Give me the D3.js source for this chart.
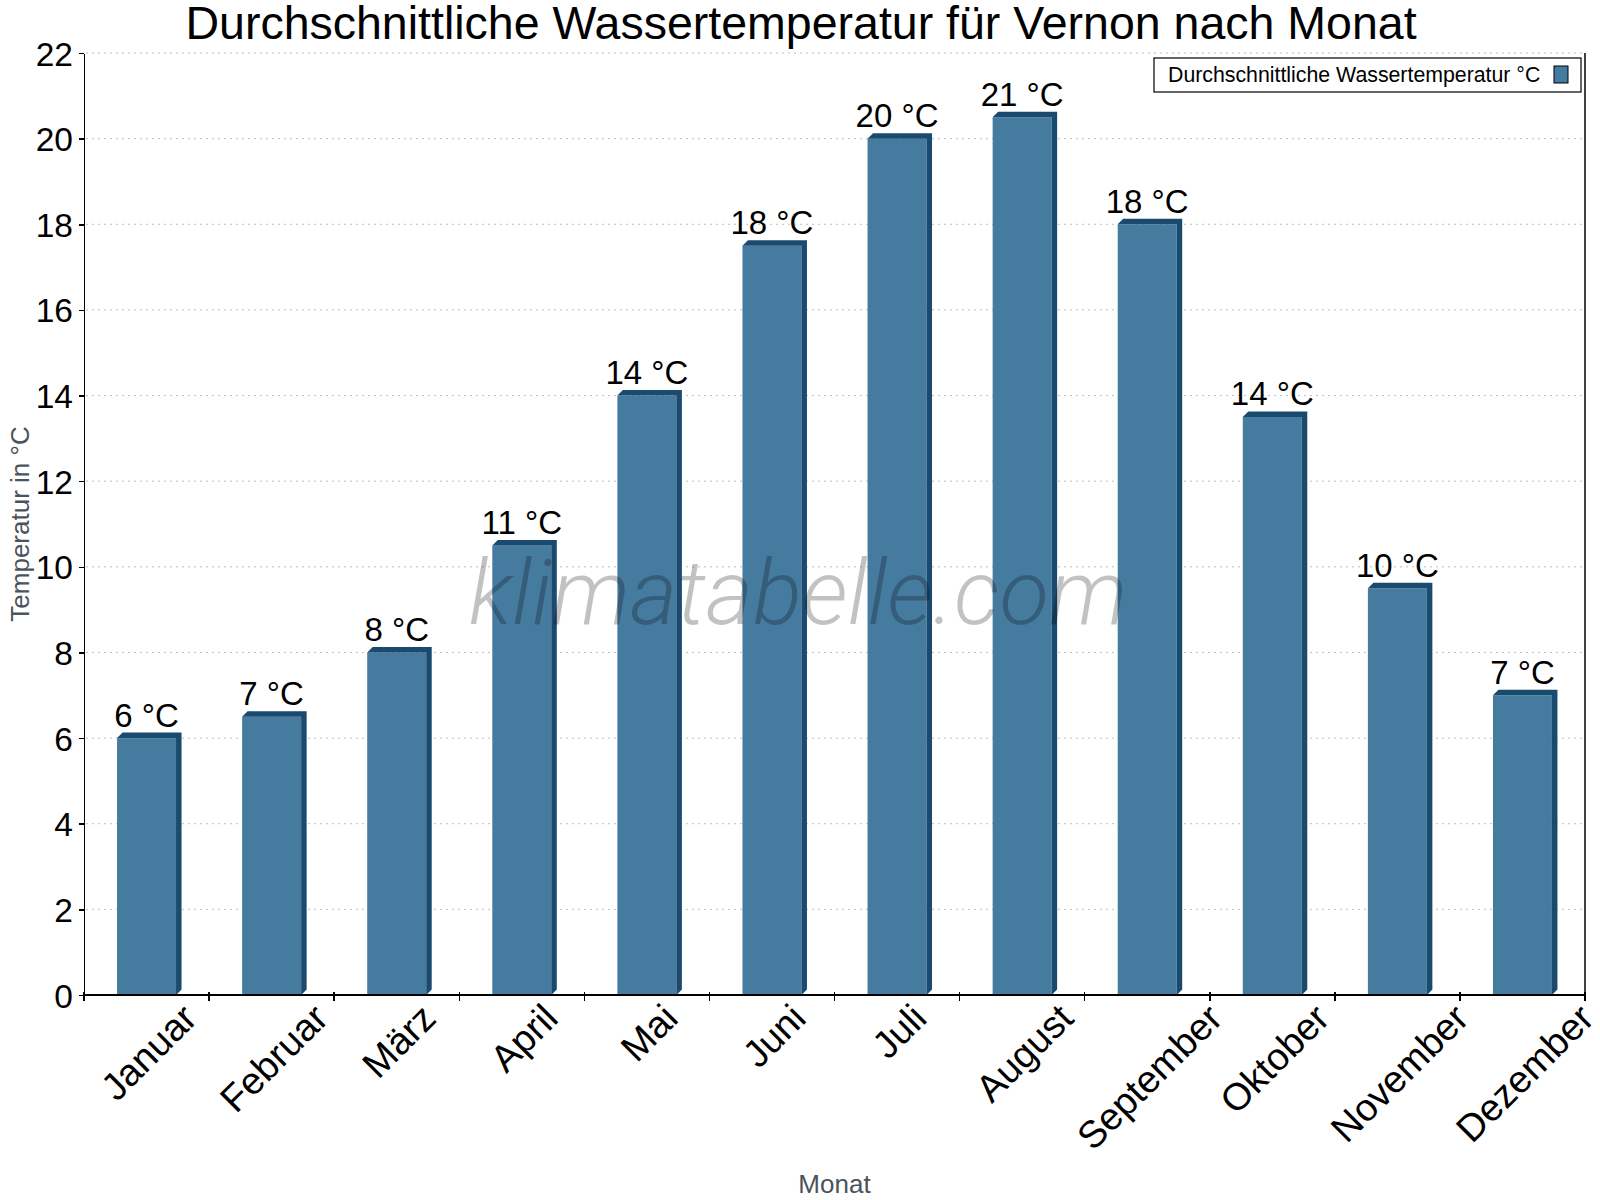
<!DOCTYPE html>
<meta charset="utf-8">
<title>Durchschnittliche Wassertemperatur für Vernon nach Monat</title>
<style>
body { margin: 0; background: #fff; }
text { font-family: "Liberation Sans", Arial, sans-serif; }
.grid line { stroke: #bdbdbd; stroke-dasharray: 2 4; }
.axis path, .axis line { stroke: #000; stroke-width: 1.5; fill: none; shape-rendering: crispEdges; }
</style>
<body>
<script src="https://cdnjs.cloudflare.com/ajax/libs/d3/7.8.5/d3.min.js"></script>
<script>
// data
var months = ["Januar", "Februar", "März", "April", "Mai", "Juni", "Juli",
  "August", "September", "Oktober", "November", "Dezember"];
var waterTemp = [6, 6.5, 8, 10.5, 14, 17.5, 20, 20.5, 18, 13.5, 9.5, 7];
var valueLabels = ["6 °C", "7 °C", "8 °C", "11 °C", "14 °C", "18 °C", "20 °C",
  "21 °C", "18 °C", "14 °C", "10 °C", "7 °C"];
var yTicks = [0, 2, 4, 6, 8, 10, 12, 14, 16, 18, 20, 22];

var W = 1600, H = 1200;
var plot = {left: 84, right: 1585, top: 53, bottom: 995};

var front = "#467ba0", dark = "#1a4a6e";
var depth = 5.5;

var svg = d3.select("body").append("svg")
  .attr("width", W)
  .attr("height", H);

svg.append("rect").attr("width", W).attr("height", H).attr("fill", "#fff");

var x = d3.scaleBand()
  .domain(months)
  .range([plot.left, plot.right]);

var y = d3.scaleLinear()
  .domain([0, 22])
  .range([plot.bottom, plot.top]);

// horizontal grid
svg.append("g")
  .attr("class", "grid")
  .selectAll("line")
  .data(yTicks.slice(1))
  .enter().append("line")
  .attr("x1", plot.left + 2)
  .attr("x2", plot.right - 3)
  .attr("y1", function(d) { return y(d); })
  .attr("y2", function(d) { return y(d); });

// bars with a little 3d shadow on top and right
var barW = 59;
var bars = svg.append("g").selectAll("g")
  .data(waterTemp)
  .enter().append("g");

bars.append("rect")
  .attr("x", function(d, i) { return x(months[i]) + x.bandwidth() / 2 - barW / 2; })
  .attr("y", function(d) { return y(d); })
  .attr("width", barW)
  .attr("height", function(d) { return y(0) - y(d); })
  .attr("fill", front);

bars.append("path")
  .attr("fill", dark)
  .attr("d", function(d, i) {
    var x0 = x(months[i]) + x.bandwidth() / 2 - barW / 2, x1 = x0 + barW;
    var yt = y(d), yb = y(0);
    return "M" + x0 + "," + yt +
      "L" + (x0 + depth) + "," + (yt - depth) +
      "L" + (x1 + depth) + "," + (yt - depth) +
      "L" + (x1 + depth) + "," + (yb - depth) +
      "L" + x1 + "," + yb +
      "L" + x1 + "," + yt + "Z";
  });

bars.append("text")
  .attr("x", function(d, i) { return x(months[i]) + x.bandwidth() / 2; })
  .attr("y", function(d) { return y(d) - 11.5; })
  .attr("text-anchor", "middle")
  .attr("font-size", 33)
  .attr("fill", "#000")
  .text(function(d, i) { return valueLabels[i]; });

// y axis
var yAxis = svg.append("g")
  .attr("class", "axis")
  .attr("transform", "translate(" + plot.left + ",0)")
  .call(d3.axisLeft(y).tickValues(yTicks).tickSize(5).tickPadding(6).tickSizeOuter(0));
yAxis.selectAll("text")
  .attr("font-size", 33.5)
  .attr("fill", "#000")
  .attr("dy", "0.36em")
  .style("font-family", "'Liberation Sans', Arial, sans-serif");

// right border of the plot
svg.append("line")
  .attr("class", "axis")
  .attr("x1", plot.right).attr("x2", plot.right)
  .attr("y1", plot.top).attr("y2", plot.bottom)
  .attr("stroke", "#000").attr("stroke-width", 1.5);

// x axis: line plus ticks at the band edges
var xg = svg.append("g").attr("class", "axis");
xg.append("line")
  .attr("x1", plot.left).attr("x2", plot.right)
  .attr("y1", plot.bottom).attr("y2", plot.bottom);
xg.selectAll(".tk")
  .data(d3.range(months.length + 1))
  .enter().append("line")
  .attr("class", "tk")
  .attr("x1", function(i) { return plot.left + i * x.step(); })
  .attr("x2", function(i) { return plot.left + i * x.step(); })
  .attr("y1", plot.bottom - 3)
  .attr("y2", plot.bottom + 6);

// rotated month labels: bounding box centred under the bar, top aligned
xg.selectAll(".lbl")
  .data(months)
  .enter().append("text")
  .attr("class", "lbl")
  .attr("font-size", 38)
  .attr("fill", "#000")
  .attr("text-anchor", "middle")
  .attr("dy", "0.35em")
  .text(function(d) { return d; })
  .each(function(d) {
    var L = this.getComputedTextLength();
    var cx = x(d) + x.bandwidth() / 2 + 2;
    var cy = 1011 + L * 0.354;
    d3.select(this).attr("transform", "translate(" + cx + "," + cy + ") rotate(-45)");
  });

// title
svg.append("text")
  .attr("x", 801)
  .attr("y", 39)
  .attr("text-anchor", "middle")
  .attr("font-size", 46.5)
  .attr("fill", "#000")
  .text("Durchschnittliche Wassertemperatur für Vernon nach Monat");

// axis titles
svg.append("text")
  .attr("transform", "translate(29," + (plot.top + plot.bottom) / 2 + ") rotate(-90)")
  .attr("text-anchor", "middle")
  .attr("font-size", 26)
  .attr("fill", "#4b535c")
  .text("Temperatur in °C");

svg.append("text")
  .attr("x", (plot.left + plot.right) / 2)
  .attr("y", 1193)
  .attr("text-anchor", "middle")
  .attr("font-size", 26)
  .attr("fill", "#4b535c")
  .text("Monat");

// legend
var legend = svg.append("g");
legend.append("rect")
  .attr("x", 1154).attr("y", 58)
  .attr("width", 427).attr("height", 34)
  .attr("fill", "#fff").attr("stroke", "#000").attr("stroke-width", 1.2);
legend.append("text")
  .attr("x", 1168).attr("y", 82)
  .attr("font-size", 21.3)
  .attr("fill", "#000")
  .text("Durchschnittliche Wassertemperatur °C");
legend.append("rect")
  .attr("x", 1554).attr("y", 66)
  .attr("width", 14).attr("height", 17)
  .attr("fill", front).attr("stroke", "#000").attr("stroke-width", 1);

// watermark over the bars
svg.append("text")
  .attr("x", 798)
  .attr("y", 624)
  .attr("text-anchor", "middle")
  .attr("font-size", 91)
  .attr("font-style", "italic")
  .attr("font-weight", 300)
  .style("font-family", "Roboto, sans-serif")
  .attr("fill", "#000")
  .attr("fill-opacity", 0.24)
  .text("klimatabelle.com");
</script>
